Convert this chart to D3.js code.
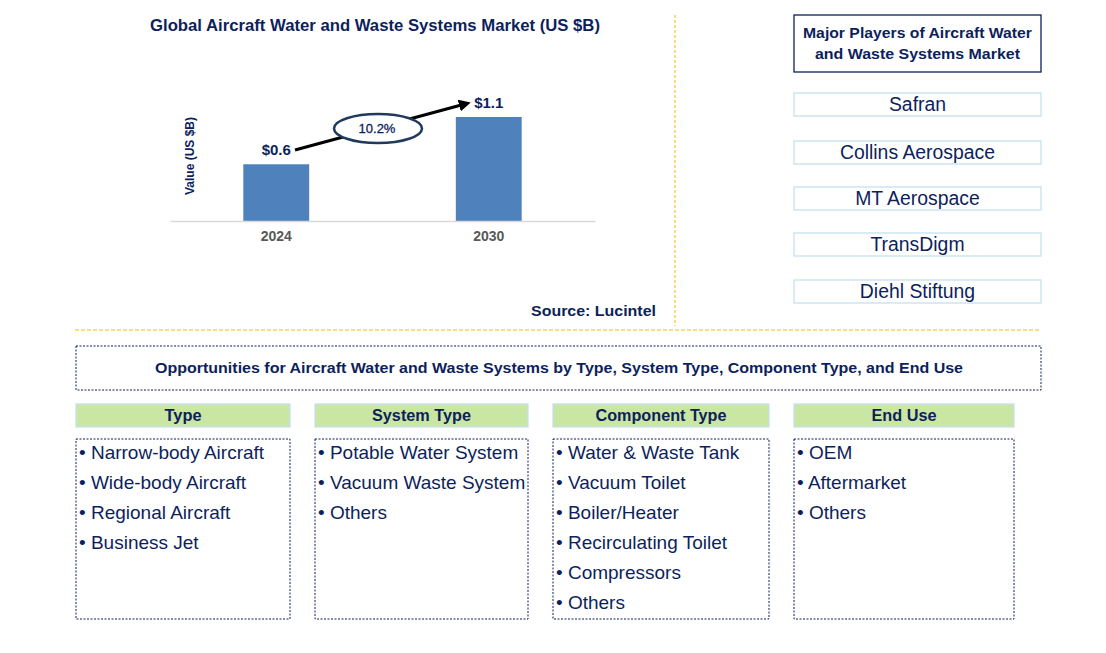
<!DOCTYPE html>
<html><head><meta charset="utf-8">
<script src="https://cdn.jsdelivr.net/npm/d3@7"></script>
<style>body{margin:0;background:#fff}svg{display:block;font-family:"Liberation Sans",Arial,sans-serif}</style>
</head><body>
<svg id="c" width="1106" height="653"></svg>
<script>
const years = ["2024", "2030"];
const values = [0.6, 1.1];
const valueLabels = ["$0.6", "$1.1"];
const cagr = "10.2%";
const players = ["Safran", "Collins Aerospace", "MT Aerospace", "TransDigm", "Diehl Stiftung"];
const segTitles = ["Type", "System Type", "Component Type", "End Use"];
const segType = ["Narrow-body Aircraft", "Wide-body Aircraft", "Regional Aircraft", "Business Jet"];
const segSystem = ["Potable Water System", "Vacuum Waste System", "Others"];
const segComponent = ["Water & Waste Tank", "Vacuum Toilet", "Boiler/Heater", "Recirculating Toilet", "Compressors", "Others"];
const segEnd = ["OEM", "Aftermarket", "Others"];

const navy = "#0d1f5c";
const svg = d3.select("#c");

// Chart
const x = d3.scaleBand().domain(years).range([170, 595]).paddingInner(0.69).paddingOuter(0.345);
const y = d3.scaleLinear().domain([0, 1.1]).range([221, 117]);

svg.append("text").attr("x", 375).attr("y", 31).attr("text-anchor", "middle")
  .attr("font-size", 16).attr("font-weight", "bold").attr("fill", navy)
  .attr("textLength", 450).attr("lengthAdjust", "spacingAndGlyphs")
  .text("Global Aircraft Water and Waste Systems Market (US $B)");

svg.selectAll("rect.bar").data(values).join("rect").attr("class", "bar")
  .attr("x", (d, i) => x(years[i])).attr("width", x.bandwidth())
  .attr("y", d => y(d)).attr("height", d => y(0) - y(d)).attr("fill", "#4f81bd");

const xAxis = svg.append("g").attr("transform", `translate(0,${y(0)})`)
  .call(d3.axisBottom(x).tickSize(0).tickPadding(10));
xAxis.select(".domain").attr("stroke", "#d9d9d9").attr("stroke-width", 1.5);
xAxis.selectAll("text").attr("font-size", 14).attr("font-weight", "bold").attr("fill", "#595959")
  .attr("font-family", "Liberation Sans, Arial, sans-serif");

svg.selectAll("text.vl").data(values).join("text").attr("class", "vl")
  .attr("x", (d, i) => x(years[i]) + x.bandwidth() / 2)
  .attr("y", d => y(d) - 9).attr("text-anchor", "middle")
  .attr("font-size", 15).attr("font-weight", "bold").attr("fill", navy)
  .text((d, i) => valueLabels[i]);

svg.append("text").attr("transform", "translate(194,156) rotate(-90)").attr("text-anchor", "middle")
  .attr("font-size", 12).attr("font-weight", "bold").attr("fill", navy).text("Value (US $B)");

// arrow
svg.append("defs").append("marker").attr("id", "ah").attr("viewBox", "0 0 10 10")
  .attr("refX", 5).attr("refY", 5).attr("markerWidth", 4).attr("markerHeight", 4).attr("orient", "auto")
  .append("path").attr("d", "M0,0 L10,5 L0,10 z").attr("fill", "#000");
svg.append("line").attr("x1", 295).attr("y1", 150).attr("x2", 465).attr("y2", 104)
  .attr("stroke", "#000").attr("stroke-width", 3).attr("marker-end", "url(#ah)");
svg.append("ellipse").attr("cx", 378).attr("cy", 128.5).attr("rx", 44).attr("ry", 14.5)
  .attr("fill", "#fff").attr("stroke", "#1f3a5c").attr("stroke-width", 2.5);
svg.append("text").attr("x", 377).attr("y", 133).attr("text-anchor", "middle")
  .attr("font-size", 13).attr("fill", navy).attr("stroke", navy).attr("stroke-width", 0.3).text(cagr);

svg.append("text").attr("x", 656).attr("y", 316).attr("text-anchor", "end")
  .attr("font-size", 15).attr("font-weight", "bold").attr("fill", navy)
  .attr("textLength", 125).attr("lengthAdjust", "spacingAndGlyphs").text("Source: Lucintel");

// separators
svg.append("line").attr("x1", 675).attr("x2", 675).attr("y1", 15).attr("y2", 326)
  .attr("stroke", "#f5b800").attr("stroke-width", 1).attr("stroke-dasharray", "3,2");
svg.append("line").attr("x1", 75).attr("x2", 1041).attr("y1", 330).attr("y2", 330)
  .attr("stroke", "#f5c000").attr("stroke-width", 1.2).attr("stroke-dasharray", "4,2");

// Players
svg.append("rect").attr("x", 794).attr("y", 15).attr("width", 247).attr("height", 57)
  .attr("fill", "#fff").attr("stroke", navy).attr("stroke-width", 1.3);
svg.append("text").attr("x", 917.5).attr("y", 37.5).attr("text-anchor", "middle").attr("font-size", 15.5)
  .attr("font-weight", "bold").attr("fill", navy).attr("textLength", 229).attr("lengthAdjust", "spacingAndGlyphs")
  .text("Major Players of Aircraft Water");
svg.append("text").attr("x", 917.5).attr("y", 58.5).attr("text-anchor", "middle").attr("font-size", 15.5)
  .attr("font-weight", "bold").attr("fill", navy).attr("textLength", 205).attr("lengthAdjust", "spacingAndGlyphs")
  .text("and Waste Systems Market");
const py = [93, 141, 187, 233, 280];
players.forEach((p, i) => {
  svg.append("rect").attr("x", 794).attr("y", py[i]).attr("width", 247).attr("height", 23)
    .attr("fill", "#fff").attr("stroke", "#c6e0f2").attr("stroke-width", 1.3);
  svg.append("text").attr("x", 917.5).attr("y", py[i] + 18).attr("text-anchor", "middle")
    .attr("font-size", 19.4).attr("fill", navy).text(p);
});

// Opportunities
svg.append("rect").attr("x", 76).attr("y", 346).attr("width", 965).attr("height", 44)
  .attr("fill", "none").attr("stroke", navy).attr("stroke-width", 1).attr("stroke-dasharray", "2,1.5");
svg.append("text").attr("x", 559).attr("y", 373).attr("text-anchor", "middle").attr("font-size", 15)
  .attr("font-weight", "bold").attr("fill", navy).attr("textLength", 808).attr("lengthAdjust", "spacingAndGlyphs")
  .text("Opportunities for Aircraft Water and Waste Systems by Type, System Type, Component Type, and End Use");

const cols = [[76, 214], [315, 213], [553, 216], [794, 220]];
const lists = [segType, segSystem, segComponent, segEnd];
const titleW = [37, 99, 131, 65];
segTitles.forEach((t, i) => {
  const [cx, w] = cols[i];
  svg.append("rect").attr("x", cx).attr("y", 404).attr("width", w).attr("height", 23)
    .attr("fill", "#c9e6a3").attr("stroke", "#c6e0f2").attr("stroke-width", 1.3);
  svg.append("text").attr("x", cx + w / 2).attr("y", 421).attr("text-anchor", "middle").attr("font-size", 16)
    .attr("font-weight", "bold").attr("fill", navy).attr("textLength", titleW[i]).attr("lengthAdjust", "spacingAndGlyphs").text(t);
  svg.append("rect").attr("x", cx).attr("y", 439).attr("width", w).attr("height", 180)
    .attr("fill", "none").attr("stroke", navy).attr("stroke-width", 1).attr("stroke-dasharray", "2,1.5");
  lists[i].forEach((item, j) => {
    svg.append("text").attr("x", cx + 3).attr("y", 459 + j * 30).attr("font-size", 19).attr("fill", navy)
      .text("\u2022 " + item);
  });
});
</script>
</body></html>
